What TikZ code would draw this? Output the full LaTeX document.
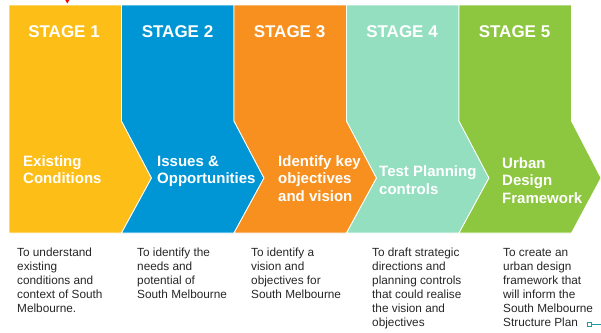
\documentclass[tikz,border=0pt]{standalone}
\usepackage{fontspec}
\setmainfont{Liberation Sans}

\definecolor{stageyellow}{HTML}{FDBE17}
\definecolor{stageblue}{HTML}{0096D6}
\definecolor{stageorange}{HTML}{F7901E}
\definecolor{stagemint}{HTML}{95DFC1}
\definecolor{stagegreen}{HTML}{8DC63F}
\definecolor{markteal}{HTML}{1A9DA5}

% multi-line nodes sit on the baseline of their last line
\tikzset{
	stagebox/.style={draw=white, line width=0.8pt, line join=miter},
	stagetitle/.style={text=white, inner sep=0pt, anchor=base,
		font=\fontsize{17}{20}\selectfont\bfseries},
	stagelabel/.style={text=white, inner sep=0pt, anchor=base west, align=left,
		font=\fontsize{15}{17.5}\selectfont\bfseries},
	stagenote/.style={text=black!85, inner sep=0pt, anchor=base west, align=left,
		font=\fontsize{11.8}{14}\selectfont}
}

\begin{document}
\begin{tikzpicture}[x=1pt, y=-1pt]
		\useasboundingbox (0, 0) rectangle (601, 332);

		% the five chevrons
		\filldraw[stagebox, fill=stageyellow]
		(9, 5) -- (121.5, 5) -- (121.5, 121) -- (151.5, 178) -- (121.5, 233) -- (9, 233) -- cycle;
		\filldraw[stagebox, fill=stageblue]
		(121.5, 5) -- (234, 5) -- (234, 121) -- (264, 178) -- (234, 233)
		-- (121.5, 233) -- (151.5, 178) -- (121.5, 121) -- cycle;
		\filldraw[stagebox, fill=stageorange]
		(234, 5) -- (346.5, 5) -- (346.5, 121) -- (376.5, 178) -- (346.5, 233)
		-- (234, 233) -- (264, 178) -- (234, 121) -- cycle;
		\filldraw[stagebox, fill=stagemint]
		(346.5, 5) -- (459, 5) -- (459, 121) -- (489, 178) -- (459, 233)
		-- (346.5, 233) -- (376.5, 178) -- (346.5, 121) -- cycle;
		\filldraw[stagebox, fill=stagegreen]
		(459, 5) -- (571.5, 5) -- (571.5, 121) -- (601, 178) -- (571.5, 233)
		-- (459, 233) -- (489, 178) -- (459, 121) -- cycle;

		% titles
		\node[stagetitle] (title1) at (64, 37) {STAGE 1};
		\node[stagetitle] (title2) at (177.5, 37) {STAGE 2};
		\node[stagetitle] (title3) at (289.5, 37) {STAGE 3};
		\node[stagetitle] (title4) at (402, 37) {STAGE 4};
		\node[stagetitle] (title5) at (514.5, 37) {STAGE 5};

		% names of the stages
		\node[stagelabel] (label1) at (23, 183.5) {Existing\\Conditions};
		\node[stagelabel] (label2) at (157, 183.5) {Issues \&\\Opportunities};
		\node[stagelabel] (label3) at (278, 201) {Identify key\\objectives\\and vision};
		\node[stagelabel] (label4) at (379, 194) {Test Planning\\controls};
		\node[stagelabel] (label5) at (502, 203) {Urban\\Design\\Framework};

		% what each stage is for
		\node[stagenote] (note1) at (17, 312.5)
		{To understand\\existing\\conditions and\\context of South\\Melbourne.};
		\node[stagenote] (note2) at (137, 298.5)
		{To identify the\\needs and\\potential of\\South Melbourne};
		\node[stagenote] (note3) at (251, 298.5)
		{To identify a\\vision and\\objectives for\\South Melbourne};
		\node[stagenote] (note4) at (372, 326.5)
		{To draft strategic\\directions and\\planning controls\\that could realise\\the vision and\\objectives};
		\node[stagenote] (note5) at (503, 326.5)
		{To create an\\urban design\\framework that\\will inform the\\South Melbourne\\Structure Plan};

		% small marks
		\fill[red] (65.3, 0) -- (69.3, 0) -- (67.3, 3.5) -- cycle;
		\draw[markteal, line width=0.9pt] (587, 322.5) rectangle (591, 326.5);
		\draw[markteal, line width=0.9pt] (591, 324.5) -- (601, 324.5);
	\end{tikzpicture}
\end{document}
